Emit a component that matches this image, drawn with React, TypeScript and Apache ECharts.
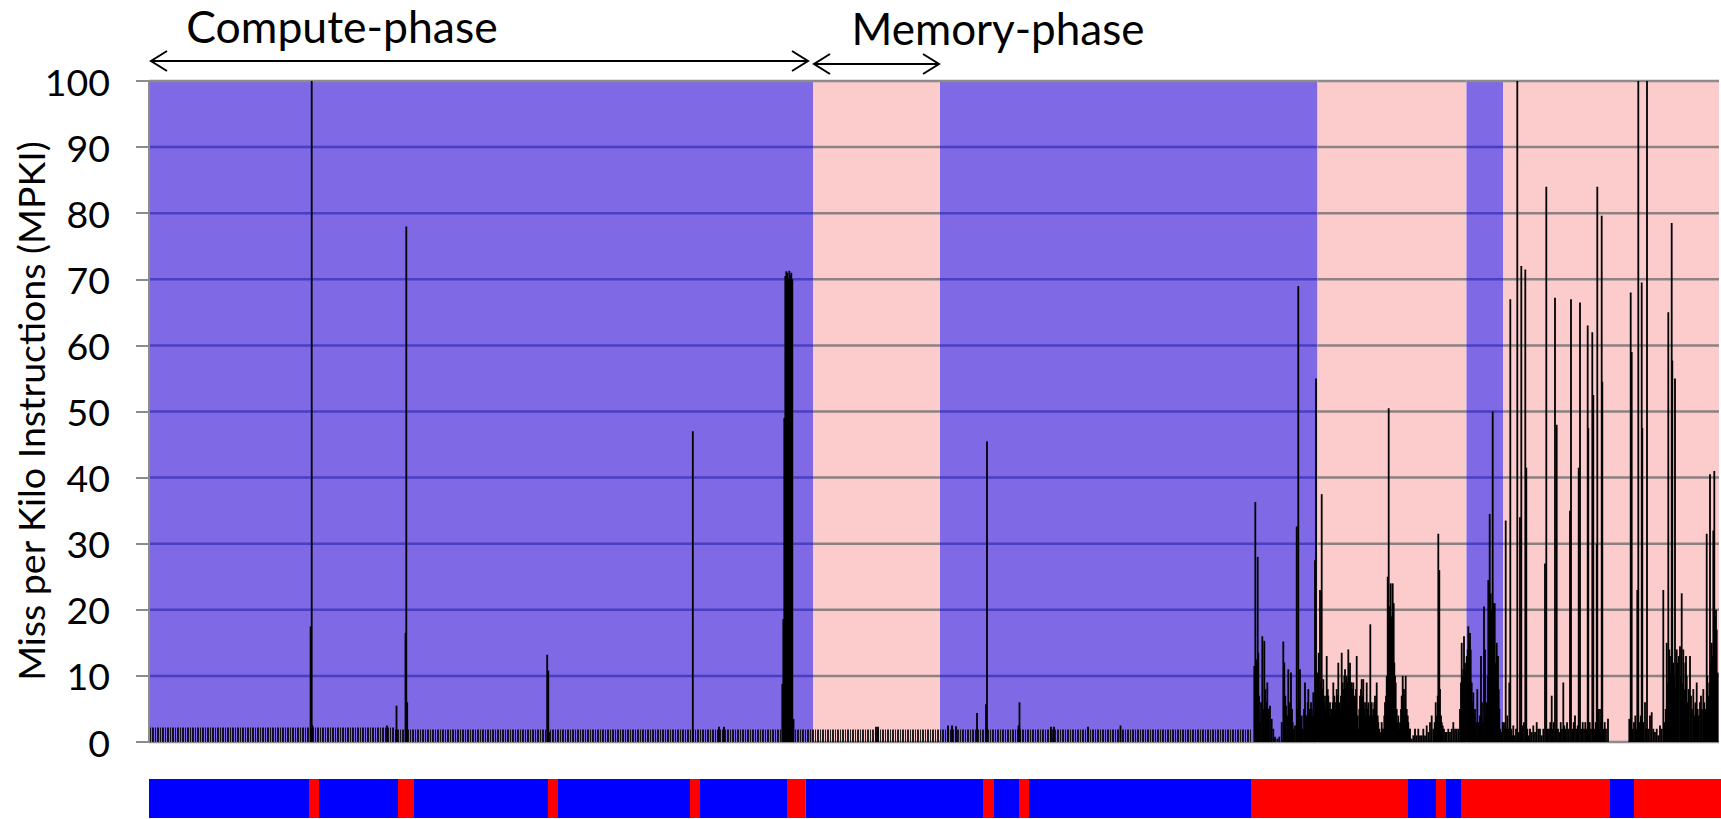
import React, { useEffect, useRef } from "react";
import * as echarts from "echarts";

// ---- axis ----
const yTicks = [0, 10, 20, 30, 40, 50, 60, 70, 80, 90, 100];
const xMax = 1570;

// ---- background phase bands (x = sample index) ----
const bandStart = [0, 664, 791, 1168.5, 1317.5, 1354];
const bandEnd = [664, 791, 1168.5, 1317.5, 1354, 1570];
const bandPhase = ["compute", "memory", "compute", "memory", "compute", "memory"];

// ---- bottom phase strip ----
const stripStart = [0, 160, 170, 249, 265, 399, 409, 541, 551, 638, 656.5, 834, 845, 870, 880, 1102, 1259, 1287, 1297, 1312, 1461, 1485];
const stripEnd = [160, 170, 249, 265, 399, 409, 541, 551, 638, 656.5, 834, 845, 870, 880, 1102, 1259, 1287, 1297, 1312, 1461, 1485, 1572];
const stripPhase = ["c", "m", "c", "m", "c", "m", "c", "m", "c", "m", "c", "m", "c", "m", "c", "m", "c", "m", "c", "m", "c", "m"];

// ---- low baseline MPKI level ----
const baselineStart = [0, 245];
const baselineEnd = [245, 1102];
const baselineLevel = [2.2, 1.9];

// ---- isolated spikes in the compute part ----
const computeSpikes: [number, number][] = [
  [161.6, 17.5], [162.7, 100], [163.5, 2.5], [238, 2.5], [247.5, 5.5],
  [256.5, 16.5], [257.3, 78], [258.2, 6], [398.2, 13.2], [399.3, 10.8], [400, 1.5],
  [543.8, 47], [570, 2.3], [575, 2.3],
  [633.3, 8.8], [634.3, 18.6], [635.3, 49], [636.3, 70.5], [637.3, 71.2], [638.3, 71],
  [639.3, 70.2], [640.3, 71.3], [641.3, 70.6], [642.3, 71], [643.3, 70], [644.5, 3.5],
  [727, 2.3], [729, 2.3], [799, 2.5], [803, 2.5], [807, 2.4],
  [828, 4.4], [837, 5.7], [838, 45.5], [869.5, 2.5], [870.5, 6],
  [902, 2.3], [905, 2.3], [939, 2.3], [971.5, 2.5],
];

// ---- dense transition region ----
const transitionNoise: [number, number][] = [
  [1105.3, 11.5], [1106.3, 36.3], [1107.3, 12.5], [1108.7, 28], [1109.3, 13.5], [1110, 7], [1111, 3],
  [1112, 6], [1113.3, 16], [1114.3, 5], [1115.3, 15.3], [1116.3, 8], [1117.3, 6], [1118.3, 9],
  [1119.7, 5], [1121, 5.5], [1122.7, 3.5], [1124.3, 2], [1126, 0.8], [1128.3, 0.5], [1130.3, 0.8],
  [1132.7, 3], [1134.3, 15.2], [1135.3, 12], [1136.3, 7], [1137, 5.5], [1138.3, 4], [1139.3, 11],
  [1140.3, 4], [1141, 6], [1142, 10.5], [1143, 5], [1143.7, 3], [1145, 2], [1146, 2.5],
  [1147.7, 32.6], [1148.3, 5], [1149.3, 69], [1150.3, 6], [1151, 11], [1152, 3], [1152.7, 4],
  [1153.7, 2], [1155, 5], [1156, 9], [1157, 4], [1157.7, 4], [1158.7, 6], [1159.3, 8],
  [1160.3, 5], [1161, 4], [1162, 6], [1162.7, 5], [1163.7, 4], [1164.3, 7.5], [1165.3, 4],
  [1166, 27.5], [1167, 55], [1167.7, 7], [1168.3, 10.5], [1169, 8], [1169.7, 13.5], [1170.3, 7],
  [1171, 23], [1171.7, 9], [1172.7, 37.5], [1173.7, 8], [1174.3, 9.5], [1175.3, 6], [1176, 7],
  [1177, 5], [1177.7, 13], [1178.7, 8], [1179.3, 7], [1180.3, 5], [1181, 6], [1182, 4],
  [1182.7, 5], [1183.7, 6], [1184.3, 9], [1185.3, 7], [1186, 5], [1187, 6], [1187.7, 8],
  [1188.7, 7], [1189.3, 12], [1190.3, 6], [1191, 5], [1192, 7], [1192.7, 13.5], [1193.7, 9],
  [1194.3, 8], [1195.3, 10], [1196, 11], [1197, 8], [1197.7, 10], [1198.7, 9], [1199.3, 14],
  [1200.3, 10], [1201, 12], [1202, 9], [1202.7, 9], [1203.7, 8], [1204.3, 9], [1205.3, 7],
  [1206, 6], [1207, 8], [1207.7, 13], [1208.7, 4], [1209.3, 2], [1210.3, 5], [1211, 7],
  [1212, 8], [1212.7, 9.5], [1213.7, 7], [1214.3, 9.5], [1215.3, 5], [1216, 6], [1217, 4],
  [1217.7, 9], [1218.7, 5], [1219.3, 6], [1220.3, 4], [1221.3, 17.8], [1222, 6], [1222.7, 6],
  [1223.7, 4], [1224.3, 5], [1225.3, 6], [1226, 7], [1227, 5], [1227.7, 9], [1228.7, 4],
  [1229.3, 3], [1230.3, 2], [1231, 1], [1232, 1.5], [1232.7, 3], [1233.7, 2], [1234.3, 2],
  [1235.3, 4], [1236, 6], [1237, 7], [1237.7, 10], [1238.7, 25], [1239.7, 50.5], [1240.7, 20.5],
  [1241.7, 24], [1242.7, 19], [1243.7, 24], [1244.7, 21], [1245.3, 12], [1246, 10], [1246.7, 9],
  [1247.7, 5], [1248.7, 3], [1249.3, 4], [1250.3, 2], [1251, 3], [1252, 5], [1252.7, 7],
  [1253.7, 10], [1254.3, 6], [1255, 8], [1256, 4], [1256.7, 10], [1257.7, 5], [1258.7, 4],
  [1259.3, 3], [1260.3, 2], [1261, 2], [1262.7, 0.5], [1264.3, 1], [1266, 2], [1267.7, 1], [1269.3, 2],
];

// ---- memory-heavy tail ----
const memoryNoise: [number, number][] = [
  [1271, 1], [1272.7, 1], [1274.3, 2], [1276, 1], [1277.7, 2.5], [1279.3, 1.5], [1281, 3],
  [1282.7, 4], [1284.3, 2], [1285.7, 3], [1286.7, 6], [1287.7, 4], [1288.7, 7], [1289.3, 31.5],
  [1290.3, 26], [1291, 8], [1292, 4], [1292.7, 3], [1293.7, 2.5], [1295, 2], [1296.3, 1.5],
  [1297.7, 1.5], [1299.3, 2], [1301, 1.5], [1302.7, 2], [1304.3, 3], [1306, 2], [1307.7, 2],
  [1309.3, 2], [1311, 5], [1312, 9], [1312.7, 15], [1313.7, 10], [1314.3, 11], [1315, 16],
  [1316, 12], [1317, 11], [1317.7, 13], [1318.7, 14], [1319.3, 17.5], [1320.3, 15], [1321, 16.5],
  [1321.7, 14], [1322.7, 9], [1323.7, 6], [1324.3, 7.5], [1325.3, 4], [1326, 5], [1327, 3],
  [1328.3, 8], [1329.3, 3], [1330.3, 2.5], [1331, 4], [1332, 13], [1333, 6], [1334, 3],
  [1335, 20.5], [1336, 14], [1337, 4], [1337.7, 6], [1338.7, 10], [1339.3, 24.5], [1340, 17],
  [1340.7, 34.5], [1341.7, 22.5], [1342.7, 20], [1343.7, 50], [1344.3, 21], [1345, 17],
  [1345.7, 21], [1346.7, 12], [1347.7, 15], [1348.3, 8], [1349, 13], [1349.7, 8], [1350.3, 5],
  [1351.3, 2], [1352.3, 1.5], [1353.7, 3], [1355, 3], [1356, 2], [1356.7, 33.5], [1357.7, 2],
  [1358.3, 4], [1359.3, 2], [1360.3, 9], [1361.3, 67], [1362.3, 2], [1363.3, 1], [1364.3, 2.5],
  [1365.7, 1], [1367, 2], [1368.3, 100], [1369.7, 1.5], [1371, 34], [1371.7, 2], [1372.3, 72],
  [1373.7, 2.5], [1375, 3], [1376.3, 71.5], [1377.3, 41.5], [1378.3, 2], [1379.7, 1], [1381, 2],
  [1382.7, 1.5], [1384.3, 2.5], [1386, 1.5], [1387.7, 3], [1389.3, 2], [1391, 2], [1392.7, 1],
  [1394.3, 2], [1396, 27], [1397.3, 84], [1398.7, 2], [1400, 2], [1401.3, 3], [1402.7, 7],
  [1403.7, 2], [1404.7, 3], [1406, 67.2], [1407, 2], [1407.7, 48], [1409, 2], [1410.3, 1.5],
  [1411.7, 3], [1413, 2], [1414.3, 9], [1415.3, 2.5], [1416.7, 2], [1418, 3], [1419.3, 2],
  [1421, 35], [1422, 67], [1423.3, 2], [1424.7, 3], [1426, 4], [1427.3, 2], [1428.7, 2.5],
  [1429.7, 41.5], [1431, 66.5], [1432.3, 2], [1433.7, 3], [1435, 2], [1436.3, 3], [1437.7, 2],
  [1438.7, 63], [1439.3, 47.5], [1440.7, 3], [1442, 2], [1443.3, 62], [1444.3, 52.5], [1445.7, 2],
  [1446.7, 3], [1447.7, 30], [1448.3, 84], [1449.3, 5], [1450.3, 2], [1451, 5], [1451.7, 3],
  [1452.7, 79.6], [1453.3, 54.5], [1454.3, 2], [1455.7, 3], [1457, 2], [1459, 3.5],
  [1480.3, 3.5], [1481.7, 68], [1482.7, 59], [1483.7, 2], [1485, 3], [1486.3, 4], [1487.7, 2],
  [1488.3, 23], [1489.3, 100], [1490.3, 3], [1491.7, 4], [1492.7, 69.5], [1493.3, 47.5],
  [1494.3, 3], [1496, 6], [1497, 2], [1498, 100], [1499.3, 2], [1501, 4], [1502.7, 4.5],
  [1504.3, 2], [1506, 1.5], [1507.7, 2], [1509.3, 1], [1511, 2.5], [1512.7, 2], [1514.3, 23],
  [1515.3, 3], [1516.7, 5], [1517.7, 15], [1518.7, 9], [1519.3, 65], [1520.3, 14], [1521, 13],
  [1522, 10], [1522.7, 78.5], [1523.3, 57.7], [1524.3, 12], [1525.3, 10], [1526, 55], [1527, 8],
  [1527.7, 14], [1528.7, 12], [1529.7, 13], [1531, 14.5], [1532, 10], [1532.7, 22.5], [1533.7, 9],
  [1534.3, 14], [1535.3, 8], [1536.3, 12], [1537, 13], [1537.7, 10], [1538.7, 6], [1539.7, 8],
  [1541, 13], [1542, 7], [1543, 5], [1544.3, 8], [1545.3, 4], [1546.3, 6], [1547.7, 9],
  [1548.7, 5], [1549.7, 4], [1551, 6], [1552, 7], [1553, 5], [1554.3, 8], [1555.3, 6],
  [1556.3, 5], [1557.7, 31.5], [1558.3, 10], [1559.3, 7], [1560.3, 9], [1561, 40.5], [1562, 12],
  [1562.7, 15], [1563.7, 13], [1564.3, 32], [1565.3, 41], [1566, 19], [1567, 20], [1567.7, 17],
  [1568.7, 10.5],
];

const FONT = "Lato, 'Open Sans', 'Liberation Sans', sans-serif";
const PURPLE = "#7f69e4";
const PINK = "#fccbcb";
const GRID_ON_PURPLE = "#4a3fc2";
const GRID_ON_PINK = "#8c8282";
const EDGE = "#8c8c8c";

export default function App() {
  const ref = useRef<HTMLDivElement>(null);

  useEffect(() => {
    if (!ref.current) return;
    const chart = echarts.init(ref.current, undefined, { renderer: "svg" });

    const canvas = document.createElement("canvas");
    canvas.width = 5;
    canvas.height = 4;
    const ctx = canvas.getContext("2d");
    if (ctx) {
      ctx.fillStyle = "rgba(0,0,0,0.85)";
      ctx.fillRect(0, 0, 1, 4);
      ctx.fillRect(2, 0, 2, 4);
    }
    const combFill: any = { image: canvas, repeat: "repeat", imageWidth: 5, imageHeight: 4 };

    const bandData = bandStart.map((s, i) => [s, bandEnd[i], bandPhase[i] === "compute" ? 0 : 1]);
    const stripData = stripStart.map((s, i) => [s, stripEnd[i], stripPhase[i] === "c" ? 0 : 1]);
    const baseData = baselineStart.map((s, i) => [s, baselineEnd[i], baselineLevel[i]]);
    const spikeData = [...computeSpikes, ...transitionNoise, ...memoryNoise];

    const ARROW = { stroke: "#000", lineWidth: 2, fill: "none" };

    chart.setOption({
      animation: false,
      grid: [
        { left: 149, top: 81, width: 1570, height: 661 },
        { left: 149, top: 779, width: 1572, height: 39 },
      ],
      xAxis: [
        { type: "value", gridIndex: 0, min: 0, max: xMax, show: false },
        { type: "value", gridIndex: 1, min: 0, max: 1572, show: false },
      ],
      yAxis: [
        {
          type: "value",
          gridIndex: 0,
          min: 0,
          max: 100,
          interval: 10,
          z: 5,
          splitLine: { show: false },
          axisLine: { show: true, lineStyle: { color: EDGE, width: 2 } },
          axisTick: { show: true, length: 13, lineStyle: { color: EDGE, width: 2 } },
          axisLabel: { fontSize: 37.5, fontFamily: FONT, color: "#000", margin: 39 },
        },
        { type: "value", gridIndex: 1, min: 0, max: 1, show: false },
      ],
      series: [
        {
          type: "custom",
          xAxisIndex: 0,
          yAxisIndex: 0,
          z: 1,
          data: bandData,
          renderItem: (params: any, api: any) => {
            const s = api.value(0);
            const e = api.value(1);
            const t = api.value(2);
            const p0 = api.coord([s, 100]);
            const p1 = api.coord([e, 0]);
            const children: any[] = [
              {
                type: "rect",
                shape: { x: p0[0], y: p0[1], width: p1[0] - p0[0], height: p1[1] - p0[1] },
                style: { fill: t === 0 ? PURPLE : PINK },
              },
            ];
            yTicks.forEach((v) => {
              const yy = api.coord([s, v])[1];
              const edge = v === 0 || v === 100;
              children.push({
                type: "line",
                shape: { x1: p0[0], y1: yy, x2: p1[0], y2: yy },
                style: { stroke: edge ? EDGE : t === 0 ? GRID_ON_PURPLE : GRID_ON_PINK, lineWidth: 2.5 },
              });
            });
            return { type: "group", children };
          },
        },
        {
          type: "custom",
          xAxisIndex: 0,
          yAxisIndex: 0,
          z: 3,
          data: baseData,
          renderItem: (params: any, api: any) => {
            const p0 = api.coord([api.value(0), api.value(2)]);
            const p1 = api.coord([api.value(1), 0]);
            return {
              type: "rect",
              shape: { x: p0[0], y: p0[1], width: p1[0] - p0[0], height: p1[1] - p0[1] },
              style: { fill: combFill },
            };
          },
        },
        {
          type: "custom",
          xAxisIndex: 0,
          yAxisIndex: 0,
          z: 4,
          data: spikeData,
          renderItem: (params: any, api: any) => {
            const top = api.coord([api.value(0), api.value(1)]);
            const bot = api.coord([api.value(0), 0]);
            const w = 1.8;
            return {
              type: "rect",
              shape: { x: top[0] - w / 2, y: top[1], width: w, height: bot[1] - top[1] },
              style: { fill: "#000" },
            };
          },
        },
        {
          type: "custom",
          xAxisIndex: 1,
          yAxisIndex: 1,
          data: stripData,
          renderItem: (params: any, api: any) => {
            const p0 = api.coord([api.value(0), 1]);
            const p1 = api.coord([api.value(1), 0]);
            return {
              type: "rect",
              shape: { x: p0[0], y: p0[1], width: p1[0] - p0[0], height: p1[1] - p0[1] },
              style: { fill: api.value(2) === 0 ? "#0000ff" : "#ff0000" },
            };
          },
        },
      ],
      graphic: [
        {
          type: "text",
          x: 30,
          y: 411,
          rotation: Math.PI / 2,
          style: {
            text: "Miss per Kilo Instructions (MPKI)",
            fontSize: 37.5,
            fontFamily: FONT,
            fill: "#000",
            align: "center",
            verticalAlign: "middle",
            textAlign: "center",
            textVerticalAlign: "middle",
          },
        },
        {
          type: "text",
          x: 342,
          y: 25,
          style: {
            text: "Compute-phase",
            fontSize: 44.5,
            lineHeight: 40,
            fontFamily: FONT,
            fill: "#000",
            align: "center",
            verticalAlign: "middle",
            textAlign: "center",
            textVerticalAlign: "middle",
          },
        },
        {
          type: "text",
          x: 998,
          y: 28,
          style: {
            text: "Memory-phase",
            fontSize: 44,
            lineHeight: 40,
            fontFamily: FONT,
            fill: "#000",
            align: "center",
            verticalAlign: "middle",
            textAlign: "center",
            textVerticalAlign: "middle",
          },
        },
        { type: "line", shape: { x1: 151, y1: 61, x2: 808, y2: 61 }, style: ARROW },
        { type: "polyline", shape: { points: [[167, 51], [151, 61], [167, 71]] }, style: ARROW },
        { type: "polyline", shape: { points: [[792, 51], [808, 61], [792, 71]] }, style: ARROW },
        { type: "line", shape: { x1: 814, y1: 64, x2: 939, y2: 64 }, style: ARROW },
        { type: "polyline", shape: { points: [[830, 54], [814, 64], [830, 74]] }, style: ARROW },
        { type: "polyline", shape: { points: [[923, 54], [939, 64], [923, 74]] }, style: ARROW },
      ],
    });

    return () => chart.dispose();
  }, []);

  return (
    <div
      ref={ref}
      style={{ position: "fixed", left: 0, top: 0, width: 1721, height: 819, background: "#fff" }}
    />
  );
}
